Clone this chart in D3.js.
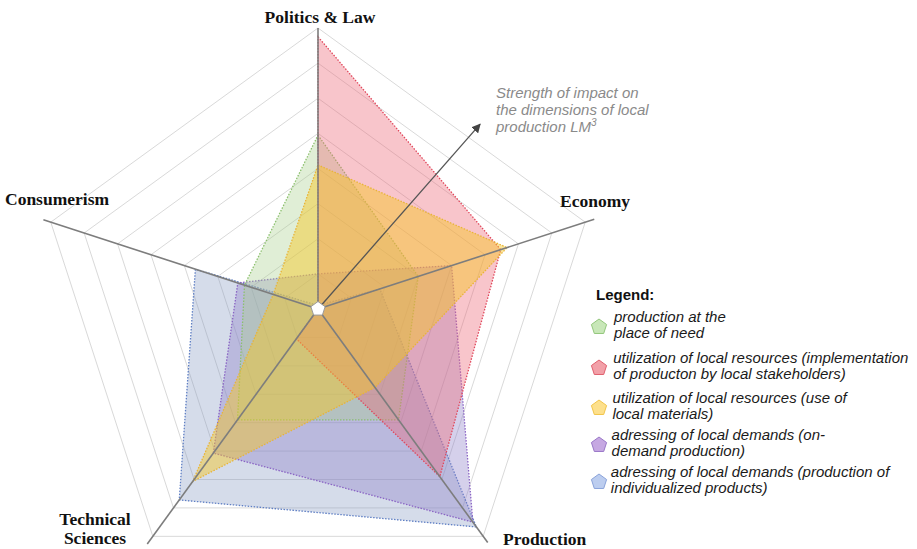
<!doctype html>
<html>
<head>
<meta charset="utf-8">
<title>Local production radar</title>
<script src="https://cdn.jsdelivr.net/npm/d3@7"></script>
<style>
  body { margin: 0; background: #fff; }
  .axis-label { font-family: "Liberation Serif", "DejaVu Serif", serif; font-weight: bold; font-size: 17.5px; fill: #111; }
  .note { font-family: "Liberation Sans", Arial, sans-serif; font-style: italic; font-size: 15px; fill: #8a8a8a; }
  .legend-title { font-family: "Liberation Sans", Arial, sans-serif; font-weight: bold; font-size: 15px; fill: #111; }
  .legend-text { font-family: "Liberation Sans", Arial, sans-serif; font-style: italic; font-size: 15px; fill: #1a1a1a; }
</style>
</head>
<body>
<script>
// dimensions, clockwise from top
var dimensions = ["Politics & Law", "Economy", "Production", "Technical Sciences", "Consumerism"];

// strength of impact per dimension (0..8 rings)
var placeOfNeed      = [4.95, 3.0, 3.9, 3.9, 2.2];
var localStakeholder = [7.75, 5.47, 5.9, 1.05, 0];
var localMaterials   = [4.1, 5.66, 2.76, 6.07, 1.34];
var onDemand         = [1.0, 4.0, 7.5, 5.07, 2.4];
var individualized   = [0.1, 1.85, 7.67, 6.72, 3.67];

var legendLabels = [
  ["production at the", "place of need"],
  ["utilization of local resources (implementation", "of producton by local stakeholders)"],
  ["utilization of local resources (use of", "local materials)"],
  ["adressing of local demands (on-", "demand production)"],
  ["adressing of local demands (production of", "individualized products)"]
];
var ringLevels = [1, 2, 3, 4, 5, 6, 7, 8];

var series = [
  {values: placeOfNeed,      fill: "#a9d08c", op: 0.36, stroke: "#8cc06e", icon: "#c8e7b8", iconStroke: "#93c77c"},
  {values: localStakeholder, fill: "#ec6676", op: 0.38, stroke: "#e0485c", icon: "#f2a0a8", iconStroke: "#e0606e"},
  {values: localMaterials,   fill: "#f7c520", op: 0.45, stroke: "#e8b438", icon: "#fde08c", iconStroke: "#f2c54a"},
  {values: onDemand,         fill: "#8a7cc8", op: 0.36, stroke: "#8a64c4", icon: "#c6a8e2", iconStroke: "#9a78c8"},
  {values: individualized,   fill: "#8397c0", op: 0.34, stroke: "#5f7fc4", icon: "#bccdef", iconStroke: "#8aa3da"}
];
// paint order: blue, purple, green, red, yellow on top
var drawOrder = [4, 3, 0, 1, 2];

var width = 917, height = 549;
var cx = 318, cy = 309;

var svg = d3.select("body").append("svg")
  .attr("width", width)
  .attr("height", height);

var r = d3.scaleLinear().domain([0, 8]).range([0, 281]);
var angle = function(i) { return i * 2 * Math.PI / dimensions.length; };

var radar = d3.lineRadial()
  .angle(function(d, i) { return angle(i); })
  .radius(function(d) { return r(d); })
  .curve(d3.curveLinearClosed);

var g = svg.append("g").attr("transform", "translate(" + cx + "," + cy + ")");

// grid rings
g.selectAll(".ring")
  .data(ringLevels)
  .enter().append("path")
  .attr("class", "ring")
  .attr("d", function(k) { return radar(dimensions.map(function() { return k; })); })
  .attr("fill", "none")
  .attr("stroke", "#d9d9d9")
  .attr("stroke-width", 1);

// series polygons
g.selectAll(".area")
  .data(drawOrder.map(function(i) { return series[i]; }))
  .enter().append("path")
  .attr("class", "area")
  .attr("d", function(s) { return radar(s.values); })
  .attr("fill", function(s) { return s.fill; })
  .attr("fill-opacity", function(s) { return s.op; })
  .attr("stroke", function(s) { return s.stroke; })
  .attr("stroke-width", 1.3)
  .attr("stroke-dasharray", "1.5,1.5");

// axes
var axisExtent = [8, 8.27, 8.22, 8.27, 8.22];
g.selectAll(".axis")
  .data(dimensions)
  .enter().append("line")
  .attr("class", "axis")
  .attr("x1", 0).attr("y1", 0)
  .attr("x2", function(d, i) { return r(axisExtent[i]) * Math.sin(angle(i)); })
  .attr("y2", function(d, i) { return -r(axisExtent[i]) * Math.cos(angle(i)); })
  .attr("stroke", "#7d7d7d")
  .attr("stroke-width", 1.6);

// annotation arrow
svg.append("defs").append("marker")
  .attr("id", "head")
  .attr("viewBox", "0 0 10 10")
  .attr("refX", 9).attr("refY", 5)
  .attr("markerWidth", 7).attr("markerHeight", 7)
  .attr("orient", "auto")
  .append("path")
  .attr("d", "M0,0L10,5L0,10z")
  .attr("fill", "#444");

var arrowLen = r(7.0), arrowAng = 0.72;
g.append("line")
  .attr("x1", 0).attr("y1", 0)
  .attr("x2", arrowLen * Math.sin(arrowAng))
  .attr("y2", -arrowLen * Math.cos(arrowAng))
  .attr("stroke", "#555")
  .attr("stroke-width", 1.3)
  .attr("marker-end", "url(#head)");

// centre pentagon
var hub = d3.lineRadial()
  .angle(function(d, i) { return angle(i); })
  .radius(7.5)
  .curve(d3.curveLinearClosed);
g.append("path")
  .attr("d", hub(dimensions))
  .attr("fill", "#fff")
  .attr("stroke", "#9a9a9a")
  .attr("stroke-width", 1);

// dimension labels
var labelPos = [
  {x: 320, y: 23, anchor: "middle", lines: ["Politics & Law"]},
  {x: 595, y: 207, anchor: "middle", lines: ["Economy"]},
  {x: 503, y: 545, anchor: "start", lines: ["Production"]},
  {x: 95, y: 525, anchor: "middle", lines: ["Technical", "Sciences"]},
  {x: 5, y: 205, anchor: "start", lines: ["Consumerism"]}
];
labelPos.forEach(function(p) {
  p.lines.forEach(function(line, j) {
    svg.append("text")
      .attr("class", "axis-label")
      .attr("text-anchor", p.anchor)
      .attr("x", p.x)
      .attr("y", p.y + j * 18.5)
      .text(line);
  });
});

// annotation text
var note = svg.append("text").attr("class", "note").attr("x", 496).attr("y", 98);
note.append("tspan").attr("x", 496).text("Strength of impact on");
note.append("tspan").attr("x", 496).attr("dy", 17).text("the dimensions of local");
note.append("tspan").attr("x", 496).attr("dy", 17).text("production LM");
note.append("tspan").attr("dy", -6).attr("font-size", "10px").text("3");

// legend
var legend = svg.append("g").attr("transform", "translate(596,300)");
legend.append("text").attr("class", "legend-title").text("Legend:");

var legendY = [22, 63, 103, 140, 177];
var iconPent = d3.lineRadial()
  .angle(function(d, i) { return angle(i); })
  .radius(8)
  .curve(d3.curveLinearClosed);

series.forEach(function(s, i) {
  var y0 = legendY[i];
  legend.append("path")
    .attr("transform", "translate(3," + (y0 + 5) + ")")
    .attr("d", iconPent(dimensions))
    .attr("fill", s.icon)
    .attr("stroke", s.iconStroke)
    .attr("stroke-width", 1);
  var t = legend.append("text").attr("class", "legend-text").attr("y", y0);
  legendLabels[i].forEach(function(line, j) {
    t.append("tspan").attr("x", 18 - i * 0.8).attr("dy", j ? 16 : 0).text(line);
  });
});
</script>
</body>
</html>
